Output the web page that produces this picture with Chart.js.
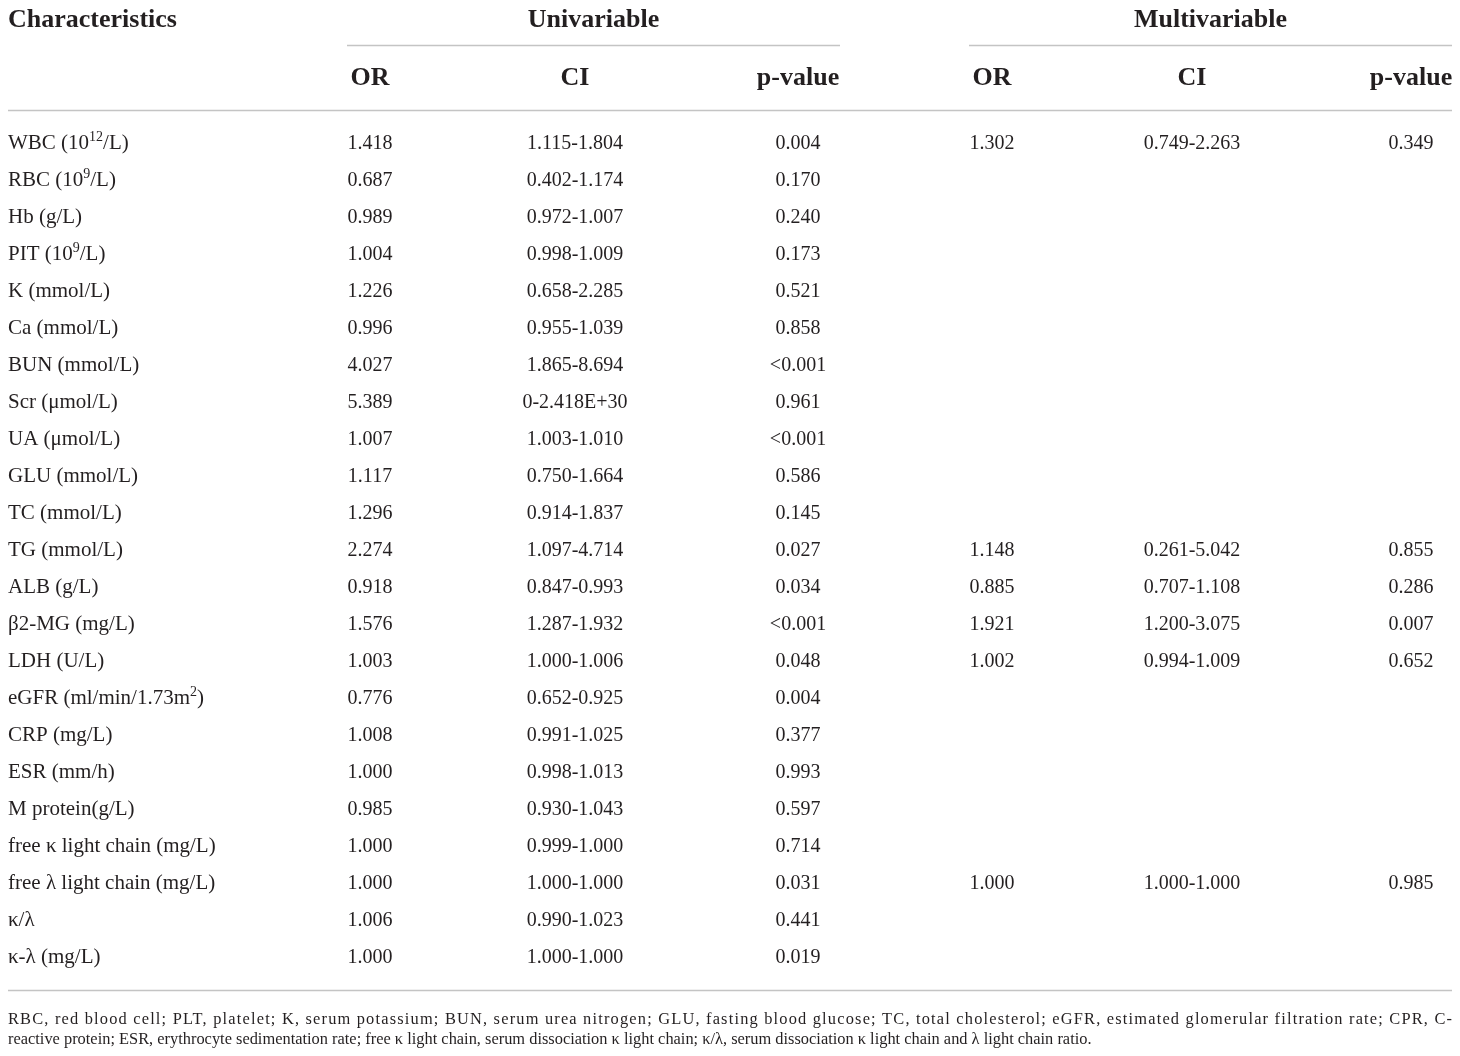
<!DOCTYPE html>
<html>
<head>
<meta charset="utf-8">
<script src="https://cdn.jsdelivr.net/npm/chart.js@4.4.0/dist/chart.umd.min.js"></script>
<style>
  body { margin: 0; background: #fff; }
  canvas { display: block; }
</style>
</head>
<body>
<canvas id="table" width="1460" height="1056"></canvas>
<script>
// row labels (^{..} = superscript)
const characteristics = [
	"WBC (10^{12}/L)", "RBC (10^{9}/L)", "Hb (g/L)", "PIT (10^{9}/L)", "K (mmol/L)",
	"Ca (mmol/L)", "BUN (mmol/L)", "Scr (μmol/L)", "UA (μmol/L)", "GLU (mmol/L)",
	"TC (mmol/L)", "TG (mmol/L)", "ALB (g/L)", "β2-MG (mg/L)", "LDH (U/L)",
	"eGFR (ml/min/1.73m^{2})", "CRP (mg/L)", "ESR (mm/h)", "M protein(g/L)",
	"free κ light chain (mg/L)", "free λ light chain (mg/L)", "κ/λ", "κ-λ (mg/L)"
];

const uniOR = ["1.418", "0.687", "0.989", "1.004", "1.226", "0.996", "4.027", "5.389", "1.007", "1.117", "1.296", "2.274",
	"0.918", "1.576", "1.003", "0.776", "1.008", "1.000", "0.985", "1.000", "1.000", "1.006", "1.000"];
const uniCI = ["1.115-1.804", "0.402-1.174", "0.972-1.007", "0.998-1.009", "0.658-2.285", "0.955-1.039", "1.865-8.694",
	"0-2.418E+30", "1.003-1.010", "0.750-1.664", "0.914-1.837", "1.097-4.714", "0.847-0.993", "1.287-1.932",
	"1.000-1.006", "0.652-0.925", "0.991-1.025", "0.998-1.013", "0.930-1.043", "0.999-1.000", "1.000-1.000",
	"0.990-1.023", "1.000-1.000"];
const uniP = ["0.004", "0.170", "0.240", "0.173", "0.521", "0.858", "<0.001", "0.961", "<0.001", "0.586", "0.145", "0.027",
	"0.034", "<0.001", "0.048", "0.004", "0.377", "0.993", "0.597", "0.714", "0.031", "0.441", "0.019"];

const multiOR = ["1.302", null, null, null, null, null, null, null, null, null, null, "1.148",
	"0.885", "1.921", "1.002", null, null, null, null, null, "1.000", null, null];
const multiCI = ["0.749-2.263", null, null, null, null, null, null, null, null, null, null, "0.261-5.042",
	"0.707-1.108", "1.200-3.075", "0.994-1.009", null, null, null, null, null, "1.000-1.000", null, null];
const multiP = ["0.349", null, null, null, null, null, null, null, null, null, null, "0.855",
	"0.286", "0.007", "0.652", null, null, null, null, null, "0.985", null, null];

const groupTitles = ["Univariable", "Multivariable"];
const subHeaders = ["OR", "CI", "p-value"];
const firstHeader = "Characteristics";

const footLines = [
	"RBC, red blood cell; PLT, platelet; K, serum potassium; BUN, serum urea nitrogen; GLU, fasting blood glucose; TC, total cholesterol; eGFR, estimated glomerular filtration rate; CPR, C-",
	"reactive protein; ESR, erythrocyte sedimentation rate; free κ light chain, serum dissociation κ light chain; κ/λ, serum dissociation κ light chain and λ light chain ratio."
];

// layout (x in px, y in row units)
const colX = [8, 370, 575, 798, 992, 1192, 1411];
const groupSpan = [[347, 840], [969, 1452]];
const tableLeft = 8, tableRight = 1452;
const headRow = -3.35, subRow = -1.78, rule1 = -2.62, rule2 = -0.865, rule3 = 22.92;
const footRows = [23.70, 24.24];

const FONT = "'Liberation Serif', 'DejaVu Serif', serif";
const INK = "#231f20";
const RULE = "#c4c4c4";
const HEAD_SIZE = 26, LABEL_SIZE = 21, NUM_SIZE = 20, FOOT_SIZE = 16.4;

function drawRich(ctx, text, x, yMid, align, size, weight) {
	const parts = [];
	const re = /\^\{([^}]*)\}/g;
	let last = 0, m;
	while ((m = re.exec(text)) !== null) {
		if (m.index > last) parts.push({ t: text.slice(last, m.index), sup: false });
		parts.push({ t: m[1], sup: true });
		last = re.lastIndex;
	}
	if (last < text.length) parts.push({ t: text.slice(last), sup: false });
	const supSize = Math.round(size * 0.66);
	let total = 0;
	for (const p of parts) {
		ctx.font = `${weight} ${p.sup ? supSize : size}px ${FONT}`;
		p.w = ctx.measureText(p.t).width;
		total += p.w;
	}
	let cx = align === "left" ? x : align === "right" ? x - total : x - total / 2;
	const base = yMid + size * 0.33;
	ctx.textAlign = "left";
	ctx.textBaseline = "alphabetic";
	for (const p of parts) {
		ctx.font = `${weight} ${p.sup ? supSize : size}px ${FONT}`;
		ctx.fillText(p.t, cx, p.sup ? base - size * 0.4 : base);
		cx += p.w;
	}
}

// full-width line: spread the extra room over all letters
function justifyLine(ctx, text, left, right, yMid, size) {
	ctx.font = `400 ${size}px ${FONT}`;
	ctx.textAlign = "left";
	ctx.textBaseline = "alphabetic";
	const natural = ctx.measureText(text).width;
	if ("letterSpacing" in ctx) {
		ctx.letterSpacing = `${(right - left - natural) / (text.length - 1)}px`;
		ctx.fillText(text, left, yMid + size * 0.33);
		ctx.letterSpacing = "0px";
		return;
	}
	const words = text.split(" ");
	const wordsW = words.reduce((s, w) => s + ctx.measureText(w).width, 0);
	const gap = (right - left - wordsW) / (words.length - 1);
	let cx = left;
	for (const w of words) {
		ctx.fillText(w, cx, yMid + size * 0.33);
		cx += ctx.measureText(w).width + gap;
	}
}

const cellColumns = [characteristics, uniOR, uniCI, uniP, multiOR, multiCI, multiP];

const tablePlugin = {
	id: "tableText",
	afterDatasetsDraw(chart) {
		const ctx = chart.ctx;
		const xs = chart.scales.x, ys = chart.scales.y;
		ctx.save();
		ctx.fillStyle = INK;

		// header
		drawRich(ctx, firstHeader, xs.getPixelForValue(tableLeft), ys.getPixelForValue(headRow), "left", HEAD_SIZE, 700);
		groupTitles.forEach((g, k) => {
			const mid = (groupSpan[k][0] + groupSpan[k][1]) / 2;
			drawRich(ctx, g, xs.getPixelForValue(mid), ys.getPixelForValue(headRow), "center", HEAD_SIZE, 700);
			subHeaders.forEach((s, j) => {
				drawRich(ctx, s, xs.getPixelForValue(colX[1 + k * 3 + j]), ys.getPixelForValue(subRow), "center", HEAD_SIZE, 700);
			});
		});

		// rules
		ctx.strokeStyle = RULE;
		ctx.lineWidth = 1.5;
		const hline = (a, b, row) => {
			const y = Math.round(ys.getPixelForValue(row)) + 0.5;
			ctx.beginPath();
			ctx.moveTo(xs.getPixelForValue(a), y);
			ctx.lineTo(xs.getPixelForValue(b), y);
			ctx.stroke();
		};
		groupSpan.forEach((s) => hline(s[0], s[1], rule1));
		hline(tableLeft, tableRight, rule2);
		hline(tableLeft, tableRight, rule3);

		// cells
		chart.data.datasets.forEach((ds, d) => {
			const meta = chart.getDatasetMeta(d);
			meta.data.forEach((pt, i) => {
				const txt = ds.cells[i];
				if (!txt) return;
				if (d === 0) drawRich(ctx, txt, pt.x, pt.y, "left", LABEL_SIZE, 400);
				else drawRich(ctx, txt, pt.x, pt.y, "center", NUM_SIZE, 400);
			});
		});

		// footnote
		justifyLine(ctx, footLines[0], xs.getPixelForValue(tableLeft), xs.getPixelForValue(tableRight), ys.getPixelForValue(footRows[0]), FOOT_SIZE);
		drawRich(ctx, footLines[1], xs.getPixelForValue(tableLeft), ys.getPixelForValue(footRows[1]), "left", FOOT_SIZE, 400);
		ctx.restore();
	}
};

new Chart(document.getElementById("table"), {
	type: "scatter",
	data: {
		datasets: cellColumns.map((col, c) => ({
			data: col.map((_, i) => ({ x: colX[c], y: i })),
			cells: col,
			pointRadius: 0,
			pointHoverRadius: 0,
		})),
	},
	options: {
		responsive: false,
		animation: false,
		events: [],
		layout: { padding: 0 },
		plugins: {
			legend: { display: false },
			tooltip: { enabled: false },
		},
		scales: {
			x: { type: "linear", display: false, min: 0, max: 1460 },
			y: { type: "linear", display: false, reverse: true, min: -142 / 37, max: 914 / 37 },
		},
	},
	plugins: [tablePlugin],
});
</script>
</body>
</html>
